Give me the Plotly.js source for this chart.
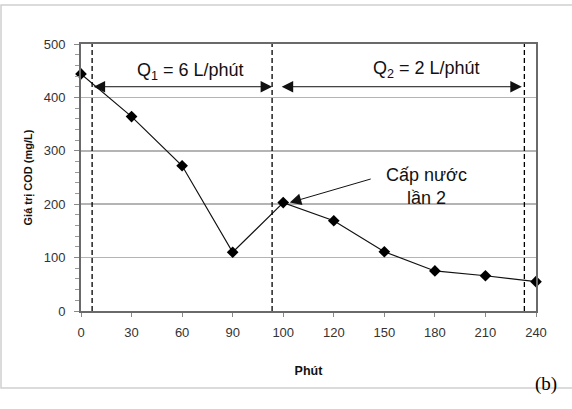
<!DOCTYPE html>
<html>
<head>
<meta charset="utf-8">
<script src="https://cdn.plot.ly/plotly-3.0.1.min.js"></script>
<style>html,body{margin:0;padding:0;background:#fff;}#chart{width:572px;height:409px;}</style>
</head>
<body>
<div id="chart"></div>
<script>
// Data
const minutes = ['0', '30', '60', '90', '100', '120', '150', '180', '210', '240'];
const cod = [444, 364, 272, 110, 203, 169, 111, 75, 66, 55];
const yTicks = [0, 100, 200, 300, 400, 500];

// Phase boundaries (category-index units) and labels
const phaseBounds = [0.22, 3.78, 8.77];
const phaseLabels = ['Q<sub>1</sub> = 6 L/phút', 'Q<sub>2</sub> = 2 L/phút'];
const calloutLabel = 'Cấp nước<br>lần 2';

const trace = {
  x: minutes,
  y: cod,
  type: 'scatter',
  mode: 'lines+markers',
  cliponaxis: false,
  line: {color: '#111', width: 1.2},
  marker: {symbol: 'diamond', size: 9, color: '#000'},
  hoverinfo: 'x+y',
  showlegend: false
};

const shapes = phaseBounds.map(b => ({
  type: 'line', xref: 'x', yref: 'y', x0: b, x1: b, y0: 0, y1: 500,
  line: {color: '#000', width: 1.3, dash: '5px,3px'}
}));
// outer frame
shapes.push({
  type: 'rect', xref: 'paper', yref: 'paper',
  x0: -0.1758, x1: 1.2, y0: -0.2884, y1: 1.146,
  line: {color: '#cfcfcf', width: 1.5}, fillcolor: 'rgba(0,0,0,0)', layer: 'below'
});

const arrowY = 420;
const arrowStyle = {showarrow: true, arrowhead: 2, arrowsize: 2.3, arrowwidth: 1, arrowcolor: '#111', text: ''};
const annotations = [
  Object.assign({x: phaseBounds[1], y: arrowY, ax: phaseBounds[0], ay: arrowY, xref: 'x', yref: 'y', axref: 'x', ayref: 'y',
   arrowside: 'end+start'}, arrowStyle),
  Object.assign({x: 8.72, y: arrowY, ax: 3.94, ay: arrowY, xref: 'x', yref: 'y', axref: 'x', ayref: 'y',
   arrowside: 'end+start'}, arrowStyle),
  {x: 2.16, y: 449, xref: 'x', yref: 'y', text: phaseLabels[0], showarrow: false,
   font: {family: 'Liberation Sans, Arial, sans-serif', size: 18, color: '#111'}},
  {x: 6.84, y: 452, xref: 'x', yref: 'y', text: phaseLabels[1], showarrow: false,
   font: {family: 'Liberation Sans, Arial, sans-serif', size: 18, color: '#111'}},
  Object.assign({x: 4.13, y: 203, ax: 5.76, ay: 248, xref: 'x', yref: 'y', axref: 'x', ayref: 'y'}, arrowStyle),
  {x: 6.84, y: 233, xref: 'x', yref: 'y', text: calloutLabel, showarrow: false,
   font: {family: 'Liberation Sans, Arial, sans-serif', size: 18, color: '#111'}},
  {x: 1.05, y: -0.323, xref: 'paper', yref: 'paper', text: '(b)', showarrow: false,
   font: {family: 'Liberation Serif, Times New Roman, serif', size: 19, color: '#000'}}
];

const layout = {
  width: 572, height: 409,
  margin: {l: 81, r: 36, t: 44, b: 98},
  paper_bgcolor: '#fff', plot_bgcolor: '#fff',
  font: {family: 'Liberation Sans, Arial, sans-serif', size: 13, color: '#333'},
  xaxis: {
    type: 'category', range: [0, 9],
    showgrid: false, zeroline: false,
    showline: true, linecolor: '#6a6a6a', linewidth: 2, mirror: true,
    ticks: 'outside', ticklen: 4, tickcolor: '#888', tickwidth: 1,
    tickfont: {size: 13, color: '#333'},
    ticklabelstandoff: 4,
    title: {text: '<b>Phút</b>', font: {size: 12.5, color: '#111'}, standoff: 28}
  },
  yaxis: {
    range: [0, 500], tickvals: yTicks,
    showgrid: true, gridcolor: '#b4b4b4', gridwidth: 1.5,
    zeroline: false,
    showline: true, linecolor: '#6a6a6a', linewidth: 2, mirror: true,
    ticks: 'outside', ticklen: 5, tickcolor: '#888', tickwidth: 1,
    minor: {dtick: 20, ticks: 'outside', ticklen: 4, tickcolor: '#999', showgrid: false},
    tickfont: {size: 13, color: '#333'},
    ticklabelstandoff: 6,
    title: {text: '<b>Giá trị COD (mg/L)</b>', font: {size: 11, color: '#111'}, standoff: 9}
  },
  shapes: shapes,
  annotations: annotations
};

Plotly.newPlot('chart', [trace], layout, {displayModeBar: false, staticPlot: true});
</script>
</body>
</html>
